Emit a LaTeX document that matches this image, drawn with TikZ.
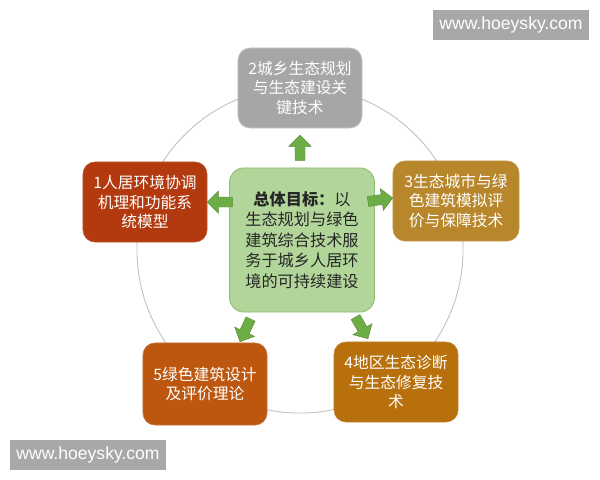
\documentclass[tikz,border=0pt]{standalone}
\usepackage{fontspec}
\setmainfont{Noto Sans CJK SC}
\newfontfamily\webfont{Liberation Sans}
\usetikzlibrary{calc,positioning}
\definecolor{boxgray}{HTML}{A6A6A6}
\definecolor{boxred}{HTML}{B23A0E}
\definecolor{boxgold}{HTML}{B8872B}
\definecolor{boxorange}{HTML}{BD570F}
\definecolor{boxamber}{HTML}{B7700C}
\definecolor{goalgreen}{HTML}{B2D69A}
\definecolor{goalline}{HTML}{8CBF6E}
\definecolor{arrowgreen}{HTML}{6DAD45}
\definecolor{markgray}{HTML}{A8A8A8}
\newcommand{\GreenArrow}[2]% #1=angle, #2=tip point
{\draw [garrow, shift={(#2)}, rotate=#1]
   (0,0) -- (-11,11) -- (-11,5) -- (-25,5) -- (-25,-5) -- (-11,-5) -- (-11,-11) -- cycle;
}

\begin{document}
\begin{tikzpicture}[x=0.025cm, y=-0.025cm,
    topic/.style={rounded corners=0.3cm, minimum width=3.1cm, minimum height=2cm,
      text=white, align=center, inner sep=2pt,
      font=\fontsize{11.2pt}{13.6pt}\selectfont},
    goalbox/.style={rounded corners=0.35cm, fill=goalgreen, draw=goalline, line width=0.6pt,
      minimum width=3.62cm, minimum height=3.6cm, align=center, text=black!85,
      font=\fontsize{11.5pt}{14.6pt}\selectfont},
    garrow/.style={fill=arrowgreen, draw=arrowgreen!80!black, line width=0.3pt},
    webmark/.style={fill=markgray, text=white, minimum width=3.9cm, minimum height=0.73cm,
      inner sep=0pt, font=\webfont\fontsize{12.5pt}{14pt}\selectfont}]

  \useasboundingbox (0,0) rectangle (600,480);
  \fill [white] (0,0) rectangle (600,480);

  % ring behind the topics
  \draw [black!25, line width=0.6pt] (300,250) circle [radius=4.075cm];

  \node [goalbox] (goal) at (302,240)
    {\textbf{总体目标：}以\\生态规划与绿色\\建筑综合技术服\\务于城乡人居环\\境的可持续建设};

  \node [topic, fill=boxgray, draw=black!22] (b2) at (300,88)
    {2城乡生态规划\\与生态建设关\\键技术};
  \node [topic, fill=boxred, draw=boxred!85!white] (b1) at (145,202)
    {1人居环境协调\\机理和功能系\\统模型};
  \node [topic, fill=boxgold, draw=boxgold!85!white, minimum width=3.15cm] (b3) at (456,201)
    {3生态城市与绿\\色建筑模拟评\\价与保障技术};
  \node [topic, fill=boxorange, draw=boxorange!85!white, minimum height=2.05cm] (b5) at (205,384)
    {5绿色建筑设计\\及评价理论};
  \node [topic, fill=boxamber, draw=boxamber!85!white] (b4) at (396,382)
    {4地区生态诊断\\与生态修复技\\术};

  \GreenArrow {90}{$(b2.south)+(0,7)$};
  \GreenArrow {180}{b1.east};
  \GreenArrow {8}{$(b3.west)+(0,-3)$};
  \GreenArrow {245}{$(b5.north)+(35,-1)$};
  \GreenArrow {300}{$(b4.north)+(-28,-3)$};

  \node [webmark] (mark1) at (511,25) {www.hoeysky.com};
  \node [webmark] (mark2) at (88,455) {www.hoeysky.com};
\end{tikzpicture}
\end{document}
